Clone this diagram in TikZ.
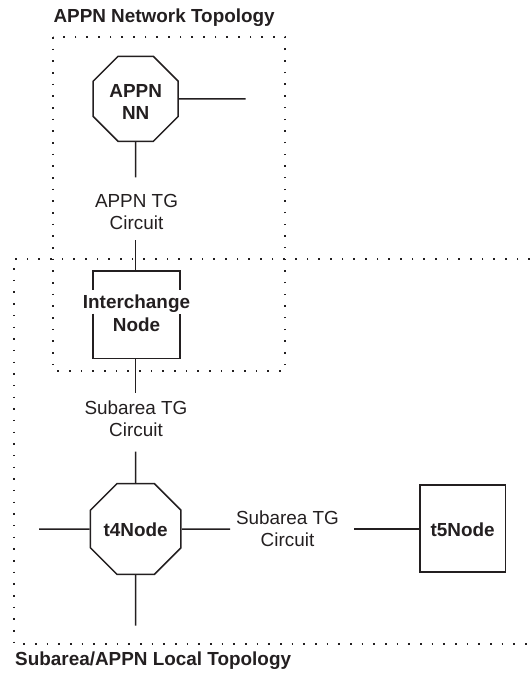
\documentclass[tikz,border=0pt]{standalone}
\usepackage{fontspec}
\setmainfont{Liberation Sans}
\usetikzlibrary{shapes.geometric}
\definecolor{ink}{RGB}{35,31,32}
\tikzset{
  wire/.style={draw=ink,line width=1.5pt},
  octnode/.style={regular polygon,regular polygon sides=8,minimum size=92pt,inner sep=0pt,
    draw=ink,line width=1.5pt,align=center,font=\fontsize{18.9}{21.5}\selectfont\bfseries,text=ink},
  boxnode/.style={rectangle,minimum width=85.2pt,minimum height=86.3pt,inner sep=0pt,
    draw=ink,line width=1.5pt,align=center,font=\fontsize{18.9}{22.5}\selectfont\bfseries,text=ink},
  lbl/.style={inner sep=0pt,align=center,font=\fontsize{18.9}{22}\selectfont,text=ink},
  ttl/.style={inner sep=0pt,anchor=base west,font=\fontsize{18.9}{22}\selectfont\bfseries,text=ink},
  dotline/.style={draw=ink,line width=1.6pt,dash pattern=on 1.6pt off 10.07pt}
}
\begin{document}
\begin{tikzpicture}[x=1pt,y=-1pt]
\useasboundingbox (0,0) rectangle (530,673);
% dotted regions
\draw[dotline] (53,37) rectangle (285,371);
\draw[dotline] (530,259) -- (14,259) -- (14,644) -- (530,644);
% titles
\node[ttl] (t1) at (53.3,22.7) {APPN Network Topology};
\node[ttl] (t2) at (15,665) {Subarea/APPN Local Topology};
% nodes
\node[octnode,text height=40.4pt,text depth=0pt] (nn) at (135.7,98.8) {APPN\\NN};
\node[boxnode,draw=none,text height=32.6pt,text depth=0pt] (ic) at (136.5,314.7) {\makebox[0pt]{Interchange}\\Node};
\node[octnode,text height=15.4pt,text depth=0pt] (t4) at (135.7,529) {t4Node};
\node[boxnode,minimum height=86.9pt,text height=16.4pt,text depth=0pt] (t5) at (462.7,528.5) {t5Node};
% border of the interchange box, broken where its first line passes
\draw[wire,line join=miter] ([yshift=-19pt]ic.north west) -- (ic.north west) -- (ic.north east) -- ([yshift=-19pt]ic.north east);
\draw[wire,line join=miter] ([yshift=45pt]ic.south west) -- (ic.south west) -- (ic.south east) -- ([yshift=45pt]ic.south east);
% labels
\node[lbl,text height=34pt,text depth=0pt] (l1) at (136.5,212) {APPN TG\\Circuit};
\node[lbl,text height=35.8pt,text depth=0pt] (l2) at (136,418.6) {Subarea TG\\Circuit};
\node[lbl,text height=35.6pt,text depth=0pt] (l3) at (287.5,528.2) {Subarea TG\\Circuit};
% free ends and label gaps
\coordinate (nnE) at (245.7,98.8);
\coordinate (l1t) at (135.7,177.3);
\coordinate (l1b) at (135.7,240);
\coordinate (l2t) at (135.7,393);
\coordinate (l2b) at (135.7,451.7);
\coordinate (l3l) at (230,529);
\coordinate (l3r) at (354,529);
\coordinate (t4W) at (39,529);
\coordinate (t4S) at (135.7,625.7);
% connectors
\draw[wire] (nn.east) -- (nnE);
\draw[wire] (nn.south) -- (l1t);
\draw[wire] (l1b) -- (ic.north -| l1b);
\draw[wire] (ic.south -| l2t) -- (l2t);
\draw[wire] (l2b) -- (t4.north);
\draw[wire] (t4.west) -- (t4W);
\draw[wire] (t4.south) -- (t4S);
\draw[wire] (t4.east) -- (l3l);
\draw[wire] (l3r) -- (t5.west |- l3r);
\end{tikzpicture}
\end{document}
